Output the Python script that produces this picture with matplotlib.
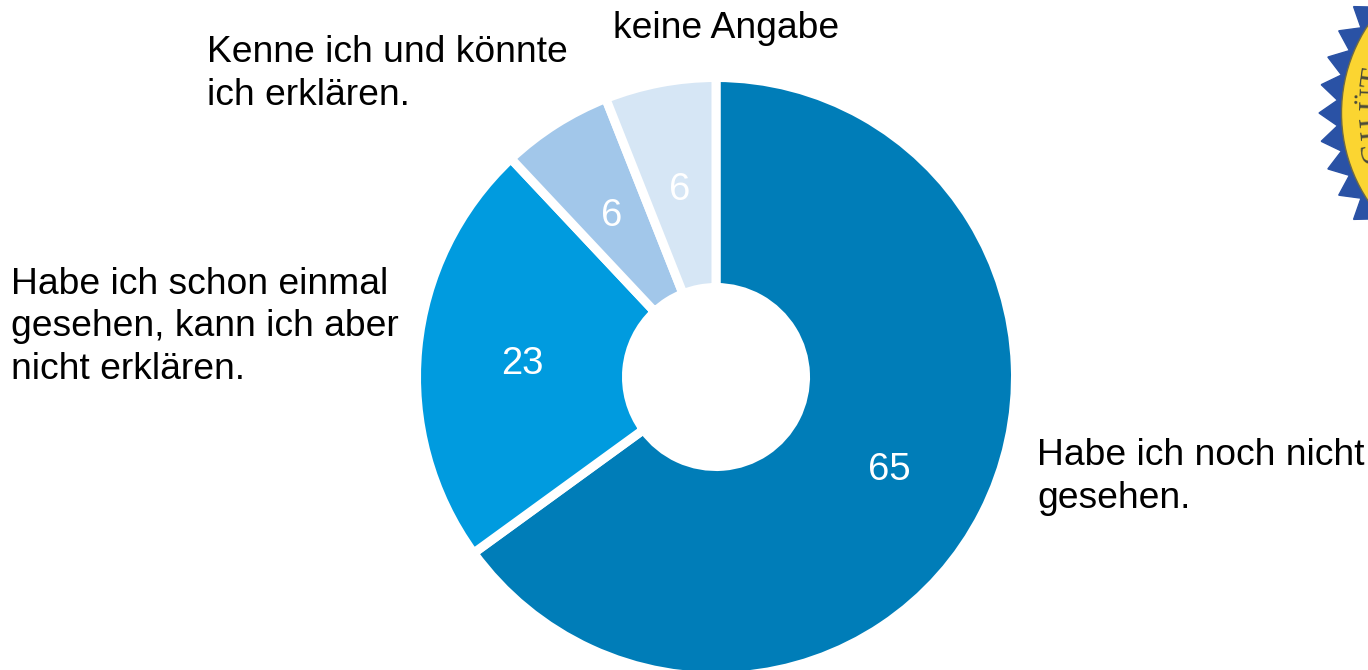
import matplotlib
matplotlib.use("Agg")
import matplotlib.pyplot as plt
import numpy as np
from matplotlib.patches import Polygon, Circle

plt.rcParams['font.family'] = ['Liberation Sans', 'DejaVu Sans']

values = [65, 23, 6, 6]
colors = ["#007DB8", "#009BDF", "#A2C7EA", "#D6E6F5"]
value_labels = ["65", "23", "6", "6"]
categories = ["Habe ich noch nicht\ngesehen.",
              "Habe ich schon einmal\ngesehen, kann ich aber\nnicht erklären.",
              "Kenne ich und könnte\nich erklären.",
              "keine Angabe"]
seal_letters = ["C", "H", "Ü", "T"]

W, H = 1368, 670
fig = plt.figure(figsize=(W / 100, H / 100), dpi=100)

# pie axes in pixel terms, the white edge eats 4.5 px on each side
cx, cy, r = 716, 377, 299.5
ax = fig.add_axes([(cx - r) / W, 1 - (cy + r) / H, 2 * r / W, 2 * r / H])
wedges, _ = ax.pie(values, colors=colors, startangle=90, counterclock=False, radius=1,
                   wedgeprops=dict(width=1 - 89.5 / r, edgecolor="white", linewidth=6.5))
ax.set_xlim(-1, 1)
ax.set_ylim(-1, 1)
ax.axis("off")

# overlay in pixel coordinates for the texts and the seal
ax_fig = fig.add_axes([0, 0, 1, 1])
ax_fig.set_xlim(0, W)
ax_fig.set_ylim(H, 0)
ax_fig.axis("off")

value_pos = [(889, 470), (522, 364), (612, 216), (680, 190)]
for (x, y), t in zip(value_pos, value_labels):
    ax_fig.text(x, y, t, color="white", fontsize=27.5, ha="center", va="center")

cat_pos = [(1037, 477), (11, 327), (207, 74), (613, 28)]
for (x, y), t in zip(cat_pos, categories):
    ax_fig.text(x, y, t, color="#000000", fontsize=26.8, ha="left", va="center", linespacing=1.28)

# partial seal at the right edge, its letters run off the picture like in the original
sx, sy = 1500, 113
ang = np.pi + np.arange(80) * np.pi / 40
rad = np.where(np.arange(80) % 2 == 0, 181, 163)
ax_fig.add_patch(Polygon(np.c_[sx + rad * np.cos(ang), sy + rad * np.sin(ang)], color="#2A52A5"))
ax_fig.add_patch(Circle((sx, sy), 158.5, facecolor="#FBD531", edgecolor="#6E6A45", linewidth=1))

letter_pos = [(1382, 150, 100), (1381, 127, 95), (1381, 100, 88), (1382, 79, 82)]
for (x, y, rot), t in zip(letter_pos, seal_letters):
    ax_fig.text(x, y, t, color="#4A4A3A", fontsize=23, family="Liberation Serif",
                rotation=rot, ha="center", va="baseline", rotation_mode="anchor")

fig.savefig("out.png", dpi=100)
